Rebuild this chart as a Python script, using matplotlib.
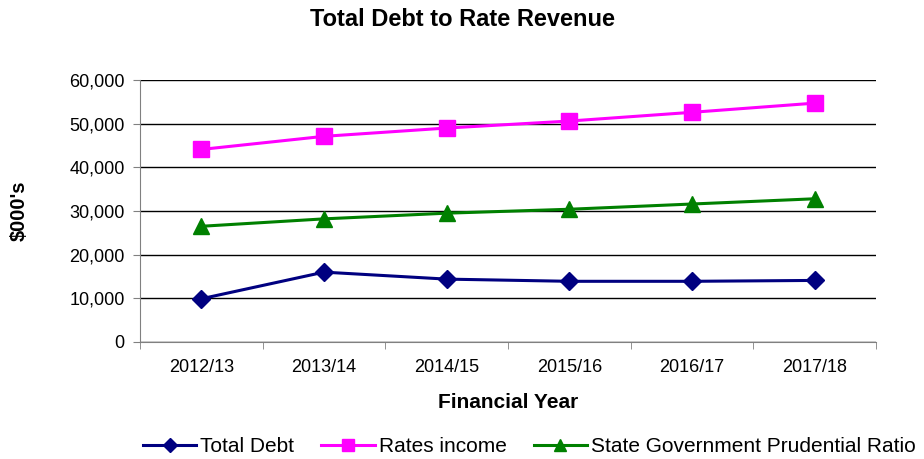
import matplotlib
matplotlib.use("Agg")
import matplotlib.pyplot as plt
from matplotlib.ticker import FuncFormatter

plt.rcParams['font.family'] = ['Liberation Sans', 'DejaVu Sans']

years = ["2012/13", "2013/14", "2014/15", "2015/16", "2016/17", "2017/18"]
total_debt = [9900, 16000, 14400, 13900, 13900, 14100]
rates_income = [44100, 47100, 49000, 50600, 52600, 54700]
prudential_ratio = [26500, 28200, 29500, 30400, 31600, 32800]

W, H = 924, 459
L, R, T, B = 140, 876, 80, 342
fig = plt.figure(figsize=(W / 100, H / 100), dpi=100)
ax = fig.add_axes([L / W, 1 - B / H, (R - L) / W, (B - T) / H])

x = list(range(len(years)))
ax.plot(x, total_debt, color='#000080', marker='D', markersize=9, lw=2.2, label='Total Debt')
ax.plot(x, rates_income, color='#FF00FF', marker='s', markersize=11, lw=2.2, label='Rates income')
ax.plot(x, prudential_ratio, color='#008000', marker='^', markersize=11, lw=2.2,
        label='State Government Prudential Ratio')

ax.set_xlim(-0.5, len(years) - 0.5)
ax.set_ylim(0, 60000)
ax.set_yticks(range(0, 60001, 10000))
ax.yaxis.set_major_formatter(FuncFormatter(lambda v, p: f"{int(v):,}"))
ax.set_xticks(x)
ax.set_xticklabels(years, fontsize=13)
ax.set_xticks([i - 0.5 for i in range(len(years) + 1)], minor=True)
ax.tick_params(axis='x', which='major', length=0, pad=12)
ax.tick_params(axis='x', which='minor', length=5, color='#808080')
ax.tick_params(axis='y', labelsize=13, length=5, color='#808080', pad=6)
ax.grid(axis='y', color='black', lw=1)
ax.set_axisbelow(True)
for s in ['top', 'right']:
    ax.spines[s].set_visible(False)
for s in ['left', 'bottom']:
    ax.spines[s].set_color('#808080')

ax.set_xlabel('Financial Year', fontsize=15, fontweight='bold')
ax.xaxis.set_label_coords(0.5, (B - 393) / (B - T))
ax.set_ylabel("$000's", fontsize=14.5, fontweight='bold')
ax.yaxis.set_label_coords((29 - L) / (R - L), 0.5)
fig.text(0.5, 1 - 20 / H, 'Total Debt to Rate Revenue', ha='center', va='center',
         fontsize=17, fontweight='bold')

fig.legend(loc='center left', bbox_to_anchor=(143 / W, 1 - 447 / H), ncol=3, frameon=False,
           fontsize=15, handlelength=2.55, columnspacing=1.3, handletextpad=0.2,
           borderpad=0, borderaxespad=0, markerscale=0.75)

fig.savefig('out.png', dpi=100)
